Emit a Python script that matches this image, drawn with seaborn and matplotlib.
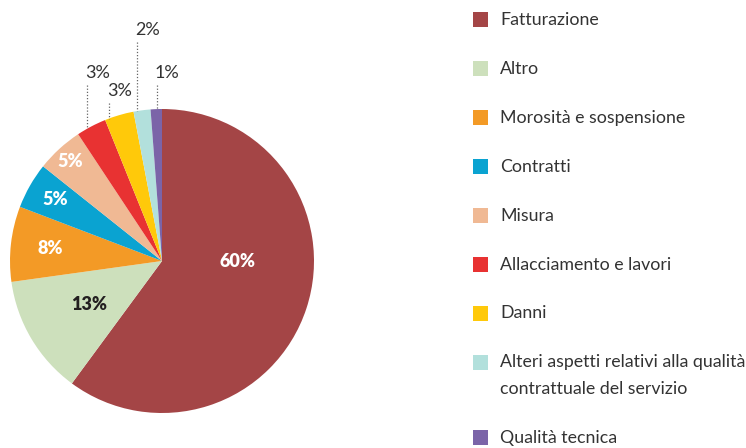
import numpy as np
import matplotlib
matplotlib.use("Agg")
import matplotlib.pyplot as plt
import seaborn as sns
from matplotlib.patches import Rectangle

# ---- data ----
categories = ["Fatturazione", "Altro", "Morosità e sospensione", "Contratti", "Misura",
              "Allacciamento e lavori", "Danni",
              "Alteri aspetti relativi alla qualità\ncontrattuale del servizio",
              "Qualità tecnica"]
shares = [60.1, 12.7, 8.0, 4.9, 5.0, 3.2, 3.1, 1.8, 1.2]
pct_labels = ["60%", "13%", "8%", "5%", "5%", "3%", "3%", "2%", "1%"]
colors = ["#A44546", "#CDE0BC", "#F39A26", "#0AA3D1", "#F0B994",
          "#E83232", "#FFC90A", "#B2E0DC", "#7B64A8"]

# ---- layout ----
W, H = 746, 448
CX, CY, R = 162, 261, 152            # pie centre / radius in pixels (y from top)
inside_r = [0.50, 0.56, 0.74, 0.81, 0.89]
inside_dang = [17.5, 0, 0, 0, 0]
inside_col = ["white", "#231F20", "white", "white", "white"]
out_line_x = [87, 109, 137, 156.5]
out_line_top = [85, 103, 42, 85]
TXT = "#333333"

sns.set_theme(style="white")
plt.rcParams['font.family'] = ['Lato', 'DejaVu Sans']

fig = plt.figure(figsize=(W / 100, H / 100), dpi=100)
ax = fig.add_axes([0, 0, 1, 1])

def fy(y):
    return H - y

wedges, _ = ax.pie(shares, colors=colors, startangle=90, counterclock=False,
                   center=(CX, fy(CY)), radius=R,
                   wedgeprops=dict(linewidth=0, antialiased=True))
ax.set_xlim(0, W)
ax.set_ylim(0, H)
ax.set_aspect('equal')
ax.axis('off')

# inside labels
for i in range(5):
    w = wedges[i]
    ang = np.deg2rad((w.theta1 + w.theta2) / 2 + inside_dang[i])
    x = CX + inside_r[i] * R * np.cos(ang)
    y = fy(CY) + inside_r[i] * R * np.sin(ang)
    ax.text(x, y, pct_labels[i], ha='center', va='center', fontsize=13,
            fontweight='heavy', color=inside_col[i])

# outside labels with dotted leaders
for k, i in enumerate(range(5, 9)):
    lx = out_line_x[k]
    top = out_line_top[k]
    bottom = CY - np.sqrt(R ** 2 - (lx - CX) ** 2)
    ax.plot([lx, lx], [fy(top), fy(bottom)], linestyle=(0, (1, 1.5)),
            color="#666666", linewidth=0.9)
    ax.text(lx - 2, fy(top - 12.5), pct_labels[i], ha='left', va='center',
            fontsize=13, color=TXT)

# legend
y = 19.5
for i, lab in enumerate(categories):
    ax.add_patch(Rectangle((473, fy(y + 7.5)), 15, 15, facecolor=colors[i],
                           edgecolor='none'))
    lines = lab.split("\n")
    for j, ln in enumerate(lines):
        ax.text(500, fy(y + j * 26), ln, ha='left', va='center',
                fontsize=12.8, color=TXT)
    y += 49 + 26 * (len(lines) - 1)

fig.savefig("out.png", dpi=100)
